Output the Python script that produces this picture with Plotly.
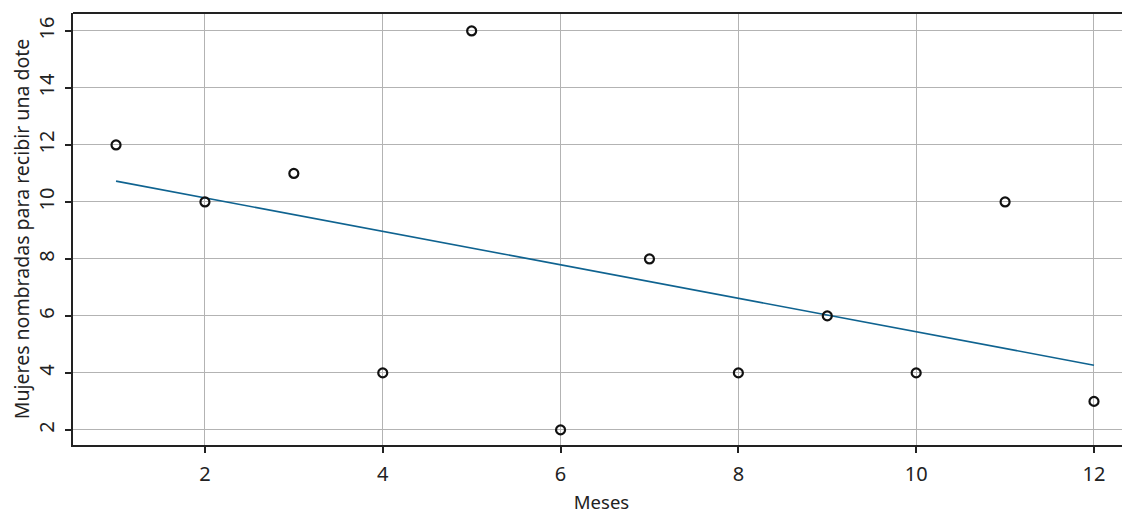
import numpy as np
import plotly.graph_objects as go

meses = [1, 2, 3, 4, 5, 6, 7, 8, 9, 10, 11, 12]
mujeres = [12, 10, 11, 4, 16, 2, 8, 4, 6, 4, 10, 3]

slope, intercept = np.polyfit(meses, mujeres, 1)
fit_x = [meses[0], meses[-1]]
fit_y = [intercept + slope * v for v in fit_x]

FONT = "Noto Sans"

fig = go.Figure()
fig.add_trace(go.Scatter(
    x=fit_x, y=fit_y, mode="lines",
    line=dict(color="#0f6390", width=1.6), showlegend=False, hoverinfo="skip"))
fig.add_trace(go.Scatter(
    x=meses, y=mujeres, mode="markers",
    marker=dict(symbol="circle-open", size=9, color="#111111", line=dict(width=2.2, color="#111111")),
    showlegend=False))

fig.update_layout(
    width=1122, height=506,
    margin=dict(l=65, r=0, t=5, b=69),
    plot_bgcolor="white", paper_bgcolor="white",
    font=dict(family=FONT, size=20, color="#222222"),
    xaxis=dict(
        range=[0.516, 12.405], tickvals=[2, 4, 6, 8, 10, 12],
        showgrid=True, gridcolor="#b3b3b3", gridwidth=1,
        showline=True, linecolor="#222222", linewidth=2,
        ticks="outside", ticklen=6, tickwidth=2, tickcolor="#222222",
        zeroline=False, tickfont=dict(size=20), ticklabelstandoff=4,
        title=dict(text="Meses", font=dict(size=18.5), standoff=12),
    ),
    yaxis=dict(
        range=[1.47, 16.63], tickvals=[2, 4, 6, 8, 10, 12, 14, 16],
        tickangle=-90, tickfont=dict(size=20), ticklabelstandoff=3,
        showgrid=True, gridcolor="#b3b3b3", gridwidth=1,
        showline=True, linecolor="#222222", linewidth=2,
        ticks="outside", ticklen=6, tickwidth=2, tickcolor="#222222",
        zeroline=False,
        title=dict(text="Mujeres nombradas para recibir una dote", font=dict(size=19.5), standoff=6),
    ),
    shapes=[dict(type="line", xref="paper", yref="paper", x0=0, x1=1, y0=1, y1=1,
                 line=dict(color="#222222", width=2))],
)

fig.write_html("out.html")
